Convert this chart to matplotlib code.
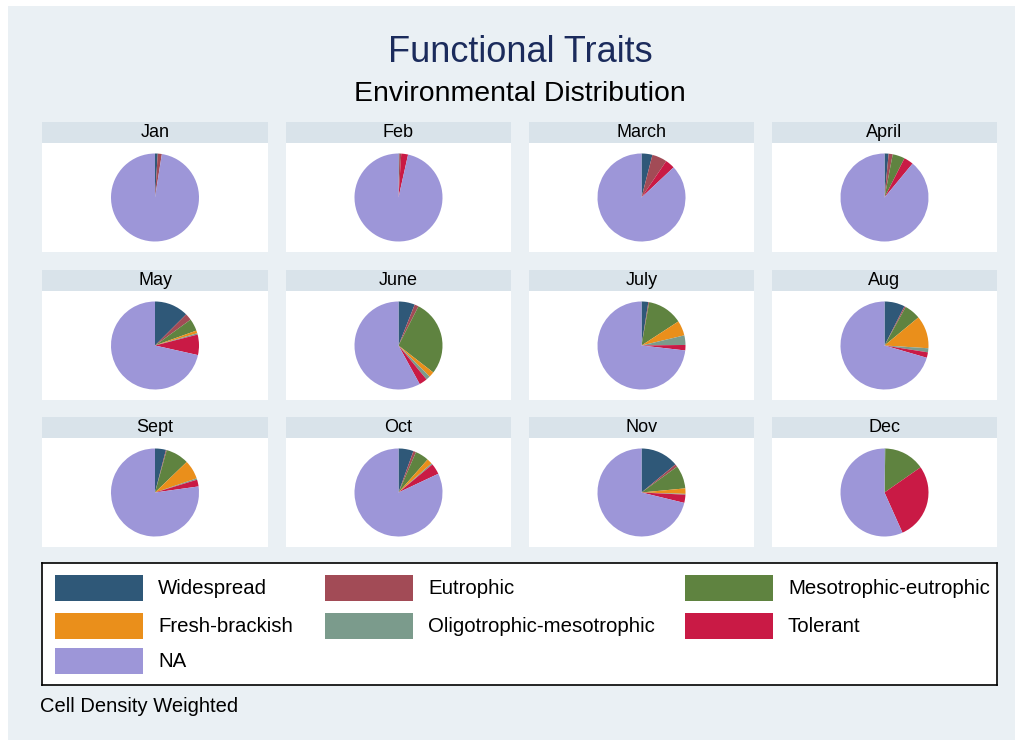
import matplotlib
matplotlib.use('Agg')
import matplotlib.pyplot as plt
from matplotlib.patches import Rectangle

plt.rcParams['font.family'] = ['Liberation Sans', 'DejaVu Sans']

# categories (legend order) and their colours
traits = ['Widespread', 'Eutrophic', 'Mesotrophic-eutrophic', 'Fresh-brackish',
          'Oligotrophic-mesotrophic', 'Tolerant', 'NA']
colors = ['#2F5878', '#A24B56', '#5F8340', '#EA8F1B', '#7B9B8C', '#C91A45', '#9D96D8']

months = ['Jan', 'Feb', 'March', 'April', 'May', 'June',
          'July', 'Aug', 'Sept', 'Oct', 'Nov', 'Dec']

# share (%) per trait, one value per month
widespread   = [1.0, 0.3, 4.0, 1.5, 12.5, 6.0, 2.5, 7.5, 4.0, 5.5, 14.0, 0.3]
eutrophic    = [1.5, 0.7, 5.5, 1.5, 2.5, 1.5, 0.3, 0.5, 0.3, 1.0, 1.0, 0.0]
meso_eutro   = [0.0, 0.0, 0.0, 4.5, 4.5, 28.0, 13.0, 6.0, 8.5, 5.0, 8.5, 15.0]
fresh_brack  = [0.0, 0.0, 0.0, 0.0, 1.0, 2.0, 5.5, 12.0, 7.0, 2.0, 2.0, 0.0]
oligo_meso   = [0.0, 0.0, 0.0, 0.0, 0.5, 1.5, 3.5, 1.5, 0.5, 0.5, 0.3, 0.0]
tolerant     = [0.0, 2.5, 3.5, 3.5, 7.5, 3.0, 2.0, 2.0, 2.5, 4.0, 3.0, 28.0]
na_share     = [97.5, 96.5, 87.0, 89.0, 71.5, 58.0, 73.2, 70.5, 77.2, 82.0, 71.2, 56.7]

series = [widespread, eutrophic, meso_eutro, fresh_brack, oligo_meso, tolerant, na_share]

W, H = 1023, 746
fig = plt.figure(figsize=(W / 100, H / 100), dpi=100)
fig.patch.set_facecolor('white')


def px_axes(x0, y0, x1, y1):
    # add axes from pixel box (top-left origin)
    ax = fig.add_axes([x0 / W, 1 - y1 / H, (x1 - x0) / W, (y1 - y0) / H])
    ax.set_xticks([])
    ax.set_yticks([])
    for s in ax.spines.values():
        s.set_visible(False)
    return ax


# light background
bg = px_axes(8, 6, 1015, 740)
bg.set_facecolor('#EAF0F4')

fig.text(520 / W, 1 - 53 / H, 'Functional Traits', ha='center', va='center',
         fontsize=26, color='#1B2B5C')
fig.text(520 / W, 1 - 94 / H, 'Environmental Distribution', ha='center', va='center',
         fontsize=20.4, color='black')

col_x = [(42, 268), (286, 511), (529, 754), (772, 997)]
row_y = [(122, 143, 252), (270, 291, 400), (417, 438, 547)]

for i, m in enumerate(months):
    r, c = divmod(i, 4)
    x0, x1 = col_x[c]
    yh, yp, yb = row_y[r]
    # header strip
    hax = px_axes(x0, yh, x1, yp)
    hax.set_facecolor('#D9E3EA')
    hax.text(0.5, 0.5, m, ha='center', va='center', fontsize=13,
             transform=hax.transAxes)
    # pie panel
    ax = px_axes(x0, yp, x1, yb)
    vals = [s[i] for s in series]
    ax.pie(vals, colors=colors, startangle=90, counterclock=False, radius=1,
           wedgeprops=dict(linewidth=0))
    ax.set_frame_on(True)
    for s in ax.spines.values():
        s.set_visible(False)
    ax.set_facecolor('white')
    r_px = 44
    ax.set_aspect('auto')
    ax.set_xlim(-(x1 - x0) / 2 / r_px, (x1 - x0) / 2 / r_px)
    ax.set_ylim(-(yb - yp) / 2 / r_px, (yb - yp) / 2 / r_px)

# legend box
lax = px_axes(42, 563, 997, 685)
lax.set_facecolor('white')
lax.set_xlim(42, 997)
lax.set_ylim(685, 563)
for s in lax.spines.values():
    s.set_visible(True)
    s.set_linewidth(1.2)
    s.set_color('black')

key_x = [55, 325, 685]
key_y = [588, 626, 661]
for k, (name, col) in enumerate(zip(traits, colors)):
    rr, cc = divmod(k, 3)
    lax.add_patch(Rectangle((key_x[cc], key_y[rr] - 13), 88, 26, facecolor=col,
                            edgecolor='none'))
    lax.text(key_x[cc] + 103, key_y[rr] + 1, name, ha='left', va='center', fontsize=14.7)

fig.text(40 / W, 1 - 707 / H, 'Cell Density Weighted', ha='left', va='center',
         fontsize=14.5)

plt.savefig('out.png', dpi=100)
